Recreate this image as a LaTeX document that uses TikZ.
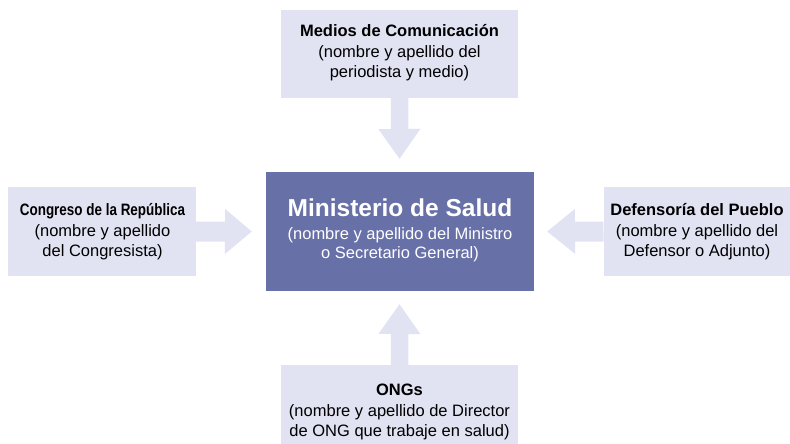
\documentclass[tikz,border=0pt]{standalone}
\usepackage{fontspec}
\usepackage{graphicx}
\setmainfont{Liberation Sans}
\usetikzlibrary{calc}
\definecolor{boxlight}{HTML}{E1E3F2}
\definecolor{boxdark}{HTML}{6870A8}
\begin{document}
\begin{tikzpicture}[x=1pt,y=-1pt,
  outer/.style={fill=boxlight, draw=none, inner sep=0pt},
  lbl/.style={align=center, font=\fontsize{16.5}{20.5}\selectfont, text=black, inner sep=0pt},
  conn/.style={fill=boxlight, draw=none}]
\useasboundingbox (0,0) rectangle (790,444);
% boxes
\node[fill=boxdark, draw=none, minimum width=268pt, minimum height=119pt, inner sep=0pt] (minsa) at (400,231.5) {};
\node[outer, minimum width=237pt, minimum height=88pt] (media) at (399.5,54) {};
\node[outer, minimum width=187.5pt, minimum height=89pt] (congreso) at (101.75,231.5) {};
\node[outer, minimum width=187pt, minimum height=89pt] (defensoria) at (697,231.5) {};
\node[outer, minimum width=237pt, minimum height=92pt] (ongs) at (399.5,411) {};
% texts
\node[align=center, text=white, inner sep=0pt, anchor=north,
      font=\fontsize{16.5}{19.5}\selectfont] (minsatext) at (400,199)
  {{\fontsize{24.5}{28}\selectfont\bfseries Ministerio de Salud}\\[3pt]
   (nombre y apellido del Ministro\\
   o Secretario General)};
\node[lbl] (mediatext) at (399.5,53) {\textbf{Medios de Comunicación}\\(nombre y apellido del\\periodista y medio)};
\node[lbl] (congresotext) at (102.5,232) {\scalebox{0.815}[1]{\textbf{Congreso de la República}}\\(nombre y apellido\\del Congresista)};
\node[lbl] (defensoriatext) at (697,232) {\textbf{Defensoría del Pueblo}\\(nombre y apellido del\\Defensor o Adjunto)};
\node[lbl] (ongstext) at (399.5,412) {\textbf{ONGs}\\(nombre y apellido de Director\\de ONG que trabaje en salud)};
% arrow tips
\coordinate (mtip) at ($(minsa.north)+(-0.5,-13)$);
\coordinate (ctip) at ($(minsa.west)+(-14,0)$);
\coordinate (dtip) at ($(minsa.east)+(13,0)$);
\coordinate (otip) at ($(minsa.south)+(-0.5,13)$);
% connectors
\fill[conn] ($(media.south)+(-8.75,0)$) -- ++(0,31) -- ++(-12.25,0) -- (mtip) -- ++(21,-30) -- ++(-12.25,0) -- ++(0,-31) -- cycle;
\fill[conn] ($(congreso.east)+(0,-10)$) -- ++(29.5,0) -- ++(0,-12.5) -- (ctip) -- ++(-27,22.5) -- ++(0,-12.5) -- ++(-29.5,0) -- cycle;
\fill[conn] ($(defensoria.west)+(0,-10)$) -- ++(-28.5,0) -- ++(0,-12.5) -- (dtip) -- ++(28,22.5) -- ++(0,-12.5) -- ++(28.5,0) -- cycle;
\fill[conn] ($(ongs.north)+(-8.75,0)$) -- ++(0,-31) -- ++(-12.25,0) -- (otip) -- ++(21,30) -- ++(-12.25,0) -- ++(0,31) -- cycle;
\end{tikzpicture}
\end{document}
